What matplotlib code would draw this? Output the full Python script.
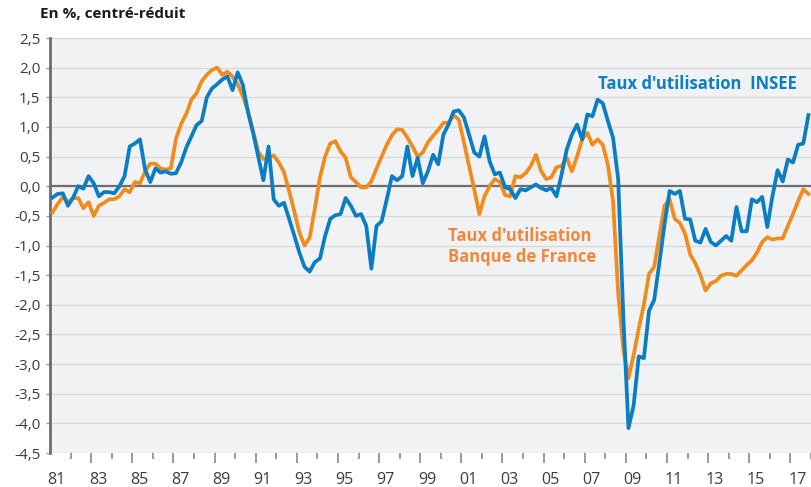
import matplotlib
matplotlib.use("Agg")
import matplotlib.pyplot as plt
import matplotlib.transforms as mtransforms
import numpy as np

# Quarterly data, 1981Q1 onward
start_year = 1981
insee = [-0.19, -0.13, -0.12, -0.33, -0.19, 0.0, -0.04, 0.17, 0.05, -0.17,
         -0.1, -0.1, -0.12, 0.0, 0.17, 0.67, 0.72, 0.79, 0.28, 0.07,
         0.3, 0.23, 0.25, 0.21, 0.22, 0.4, 0.65, 0.84, 1.03, 1.1,
         1.5, 1.65, 1.72, 1.8, 1.85, 1.62, 1.92, 1.71, 1.25, 0.9,
         0.5, 0.1, 0.67, -0.22, -0.33, -0.28, -0.55, -0.83, -1.12, -1.36,
         -1.44, -1.28, -1.22, -0.84, -0.55, -0.49, -0.47, -0.2, -0.33, -0.5,
         -0.47, -0.67, -1.39, -0.67, -0.59, -0.22, 0.17, 0.1, 0.17, 0.67,
         0.17, 0.48, 0.05, 0.25, 0.53, 0.37, 0.87, 1.04, 1.26, 1.28,
         1.16, 0.87, 0.57, 0.5, 0.84, 0.42, 0.2, 0.23, -0.02, -0.05,
         -0.2, -0.05, -0.07, -0.02, 0.03, -0.03, -0.07, -0.03, -0.17, 0.2,
         0.62, 0.87, 1.04, 0.79, 1.21, 1.18, 1.46, 1.4, 1.1, 0.82,
         0.12, -2.2, -4.08, -3.7, -2.87, -2.9, -2.1, -1.92, -1.3, -0.65,
         -0.08, -0.13, -0.08, -0.55, -0.56, -0.92, -0.95, -0.72, -0.94, -1.0,
         -0.92, -0.84, -0.92, -0.35, -0.76, -0.76, -0.22, -0.27, -0.18, -0.69,
         -0.17, 0.27, 0.08, 0.45, 0.4, 0.7, 0.72, 1.2]
bdf = [-0.44, -0.3, -0.18, -0.27, -0.2, -0.2, -0.37, -0.27, -0.5, -0.33,
       -0.28, -0.22, -0.22, -0.17, -0.05, -0.1, 0.07, 0.05, 0.25, 0.38,
       0.38, 0.3, 0.28, 0.3, 0.8, 1.05, 1.22, 1.46, 1.57, 1.77,
       1.88, 1.96, 2.0, 1.88, 1.93, 1.85, 1.72, 1.52, 1.27, 0.93,
       0.58, 0.46, 0.48, 0.52, 0.4, 0.24, -0.08, -0.42, -0.78, -1.0,
       -0.87, -0.38, 0.15, 0.5, 0.72, 0.76, 0.59, 0.48, 0.15, 0.07,
       -0.02, -0.02, 0.08, 0.3, 0.5, 0.7, 0.86, 0.96, 0.95, 0.82,
       0.67, 0.5, 0.57, 0.74, 0.85, 0.95, 1.07, 1.07, 1.2, 1.12,
       0.74, 0.34, -0.05, -0.47, -0.17, 0.0, 0.12, 0.07, -0.15, -0.17,
       0.17, 0.15, 0.22, 0.34, 0.53, 0.26, 0.12, 0.15, 0.32, 0.34,
       0.48, 0.25, 0.5, 0.79, 0.9, 0.7, 0.79, 0.7, 0.36, -0.25,
       -1.8, -2.75, -3.24, -2.85, -2.4, -2.0, -1.48, -1.36, -0.85, -0.33,
       -0.22, -0.55, -0.62, -0.8, -1.15, -1.3, -1.5, -1.76, -1.64, -1.6,
       -1.51, -1.48, -1.48, -1.51, -1.42, -1.33, -1.25, -1.12, -0.94, -0.86,
       -0.9, -0.88, -0.88, -0.67, -0.47, -0.25, -0.05, -0.13]
year_labels = ["81", "83", "85", "87", "89", "91", "93", "95", "97", "99",
               "01", "03", "05", "07", "09", "11", "13", "15", "17"]
y_ticks = [2.5, 2.0, 1.5, 1.0, 0.5, 0.0, -0.5, -1.0, -1.5, -2.0, -2.5,
           -3.0, -3.5, -4.0, -4.5]

BLUE = "#0a7dc3"
ORANGE = "#f08c1e"

plt.rcParams['font.family'] = ['Open Sans', 'DejaVu Sans']

fig = plt.figure(figsize=(8.11, 4.87), dpi=100)
ax = fig.add_axes([50/811, 34/487, 761/811, 415/487])
ax.set_facecolor("#f1f2f4")

t_insee = start_year + (np.arange(len(insee)) + 0.5) / 4
t_bdf = start_year + (np.arange(len(bdf)) + 0.5) / 4

ax.set_ylim(-4.5, 2.5)
ax.set_xlim(1981, 1981 + 761/20.7)

for yv in y_ticks:
    if yv != 0:
        ax.axhline(yv, color="#d8d9dc", lw=1.0, zorder=1)
ax.axhline(0, color="#6e6e6e", lw=1.6, zorder=2)

ax.plot(t_bdf, bdf, color=ORANGE, lw=2.7, zorder=3, solid_joinstyle='round')
ax.plot(t_insee, insee, color=BLUE, lw=2.7, zorder=4, solid_joinstyle='round')

for s in ["top", "right", "bottom"]:
    ax.spines[s].set_visible(False)
ax.spines["left"].set_color("#6e6e6e")
ax.spines["left"].set_linewidth(2.0)

ax.set_yticks(y_ticks)
ax.set_yticklabels([("%.1f" % v).replace(".", ",") for v in y_ticks])
ax.tick_params(axis="y", length=3, width=1, color="#9a9a9a", pad=4,
               labelsize=11, labelcolor="#3c3c3c")

odd_years = [1981 + 2*k for k in range(len(year_labels))]
even_years = [1982 + 2*k for k in range(len(year_labels))]
ax.set_xticks(odd_years[1:])
ax.set_xticks(even_years, minor=True)
ax.set_xticklabels([])
ax.tick_params(axis="x", which="major", length=7.5, width=1.2, color="#8a8a8a")
ax.tick_params(axis="x", which="minor", length=4.5, width=1.2, color="#8a8a8a")

trans = mtransforms.blended_transform_factory(ax.transData, ax.transAxes)
for yr, lab in zip(odd_years, year_labels):
    ax.text(yr + 0.33, -0.045, lab, transform=trans, ha="center", va="top",
            fontsize=11.5, color="#3c3c3c", clip_on=False)

fig.text(40/811, 1 - 14/487, "En %, centré-réduit", ha="left", va="center",
         fontsize=11, fontweight="bold", color="#1a1a1a")

ax.text(0.7198, 0.889, "Taux d'utilisation  INSEE", transform=ax.transAxes,
        ha="left", va="center", fontsize=12, fontweight="bold", color=BLUE)
ax.text(0.523, 0.497, "Taux d'utilisation\nBanque de France", transform=ax.transAxes,
        ha="left", va="center", fontsize=12, fontweight="bold", color="#f0883c",
        linespacing=1.2)

fig.savefig("out.png", dpi=100)
